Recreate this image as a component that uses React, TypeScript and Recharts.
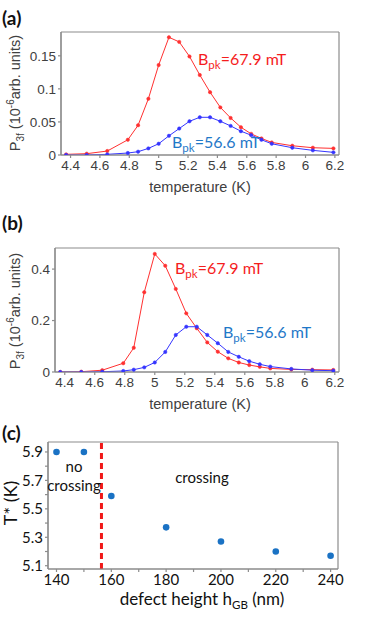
import { LineChart, Line, XAxis, YAxis, ScatterChart, Scatter, ReferenceLine, CartesianGrid } from "recharts";

// temperatures (K)
const temps = [4.37, 4.51, 4.65, 4.79, 4.86, 4.93, 5.0, 5.07, 5.14, 5.21, 5.28, 5.35, 5.42, 5.49, 5.56, 5.63, 5.7, 5.77, 5.91, 6.05, 6.19];
// panel (a)
const aHigh = [0.001, 0.002, 0.006, 0.023, 0.045, 0.085, 0.136, 0.178, 0.171, 0.149, 0.121, 0.095, 0.072, 0.056, 0.042, 0.032, 0.025, 0.019, 0.014, 0.011, 0.01];
const aLow = [0.0, 0.0, 0.001, 0.003, 0.005, 0.01, 0.017, 0.029, 0.04, 0.051, 0.057, 0.057, 0.051, 0.044, 0.036, 0.03, 0.023, 0.017, 0.011, 0.007, 0.004];
// panel (b)
const bHigh = [0.0, 0.001, 0.007, 0.034, 0.094, 0.31, 0.459, 0.413, 0.323, 0.228, 0.17, 0.115, 0.079, 0.053, 0.037, 0.027, 0.02, 0.014, 0.01, 0.009, 0.008];
const bLow = [0.0, 0.0, 0.001, 0.004, 0.009, 0.018, 0.037, 0.078, 0.144, 0.176, 0.176, 0.144, 0.112, 0.078, 0.059, 0.042, 0.03, 0.021, 0.012, 0.007, 0.005];
// panel (c)
const heights = [140, 150, 160, 180, 200, 220, 240];
const tStar = [5.9, 5.9, 5.59, 5.37, 5.27, 5.2, 5.17];
const boundary = 156.4;

const tempTicks = [4.4, 4.6, 4.8, 5.0, 5.2, 5.4, 5.6, 5.8, 6.0, 6.2];
const aTicks = [0, 0.05, 0.1, 0.15];
const bTicks = [0, 0.2, 0.4];
const hTicks = [140, 150, 160, 170, 180, 190, 200, 210, 220, 230, 240];
const tsTicks = [5.1, 5.2, 5.3, 5.4, 5.5, 5.6, 5.7, 5.8, 5.9];

const TDOM = [4.335, 6.228];
const HDOM = [136.9, 242.7];
const TSDOM = [5.077, 5.97];

const RED = "#ff3030";
const BLUE = "#3535ff";
const LBL_RED = "#f51d1d";
const LBL_BLUE = "#1f78c8";
const FRAME = "#8c8c8c";
const TICKTXT = "#404040";
const MATFONT = "'Liberation Sans', Arial, sans-serif";
const CALFONT = "Lato, 'Noto Sans', sans-serif";

const dataA = temps.map((t, i) => ({ t, hi: aHigh[i], lo: aLow[i] }));
const dataB = temps.map((t, i) => ({ t, hi: bHigh[i], lo: bLow[i] }));
const dataC = heights.map((h, i) => ({ h, ts: tStar[i] }));

const fmt = (v: number) => String(+v.toFixed(2));
const tickStyle = { fill: TICKTXT, fontSize: 13.5, fontFamily: MATFONT };
const axisLine = { stroke: FRAME, strokeWidth: 1.2 };
const tickLine = { stroke: FRAME, strokeWidth: 1.2 };

// box around the plot area (top/bottom and left/right edges)
const edgesH = ({ offset }: any) => [offset.top, offset.top + offset.height];
const edgesV = ({ offset }: any) => [offset.left, offset.left + offset.width];

const TempPanel = ({ data, ticks, ymax, ywidth, margin }: any) => (
  <LineChart width={374} height={200} data={data} margin={margin}>
    <CartesianGrid stroke={FRAME} strokeWidth={1.2} strokeOpacity={1} horizontalCoordinatesGenerator={edgesH} verticalCoordinatesGenerator={edgesV} />
    <XAxis dataKey="t" type="number" domain={TDOM} ticks={tempTicks} tickFormatter={fmt} axisLine={axisLine} tickLine={tickLine}
      height={28} tick={tickStyle} tickSize={3} tickMargin={2} interval={0} />
    <YAxis type="number" domain={[0, ymax]} ticks={ticks} tickFormatter={fmt} width={ywidth} axisLine={axisLine} tickLine={tickLine}
      tick={tickStyle} tickSize={3} tickMargin={2} allowDataOverflow />
    <Line dataKey="hi" stroke={RED} strokeWidth={1} dot={{ r: 1.7, fill: RED, stroke: RED, strokeWidth: 0.5 }} isAnimationActive={false} />
    <Line dataKey="lo" stroke={BLUE} strokeWidth={1} dot={{ r: 1.7, fill: BLUE, stroke: BLUE, strokeWidth: 0.5 }} isAnimationActive={false} />
  </LineChart>
);

const PLabel = ({ x, y }: { x: number; y: number }) => (
  <text transform={`translate(${x},${y}) rotate(-90)`} textAnchor="middle" fontFamily={MATFONT} fontSize={14.5} fill={TICKTXT}>
    P<tspan fontSize={10} dy={4}>3f</tspan>
    <tspan dy={-4}> (10</tspan>
    <tspan fontSize={10} dy={-6}>-6</tspan>
    <tspan dy={6}>arb. units)</tspan>
  </text>
);

const Bpk = ({ x, y, value, color }: any) => (
  <text x={x} y={y} fontFamily={CALFONT} fontSize={16} fill={color}>
    B<tspan fontSize={11.5} dy={4}>pk</tspan>
    <tspan dy={-4}>={value} mT</tspan>
  </text>
);

export default function App() {
  return (
    <div style={{ position: "absolute", left: 0, top: 0, width: 374, height: 617, background: "#fff" }}>
      <div style={{ position: "absolute", left: 0, top: 0 }}>
        <TempPanel data={dataA} ticks={aTicks} ymax={0.186} ywidth={40} margin={{ top: 32, right: 35, left: 21, bottom: 17 }} />
      </div>
      <div style={{ position: "absolute", left: 0, top: 200 }}>
        <TempPanel data={dataB} ticks={bTicks} ymax={0.482} ywidth={34} margin={{ top: 48, right: 35, left: 21, bottom: 0 }} />
      </div>
      <div style={{ position: "absolute", left: 0, top: 400 }}>
        <ScatterChart width={374} height={217} margin={{ top: 42, right: 36, left: 18, bottom: 0 }}>
          <CartesianGrid stroke={FRAME} strokeWidth={1.2} strokeOpacity={1} horizontalCoordinatesGenerator={edgesH} verticalCoordinatesGenerator={edgesV} />
          <XAxis dataKey="h" type="number" domain={HDOM} ticks={hTicks} axisLine={axisLine} tickLine={tickLine}
            tickFormatter={(v: number) => (v % 20 === 0 ? String(v) : "")} interval={0}
            height={48} tickSize={3} tickMargin={2}
            tick={{ fill: "#111", fontSize: 15, fontFamily: CALFONT }} />
          <YAxis dataKey="ts" type="number" domain={TSDOM} ticks={tsTicks} axisLine={axisLine} tickLine={tickLine}
            tickFormatter={(v: number) => (Math.round(v * 10) % 2 === 1 ? v.toFixed(1) : "")} interval={0}
            width={30} tickSize={3} tickMargin={2}
            tick={{ fill: "#111", fontSize: 15, fontFamily: CALFONT }} />
          <ReferenceLine x={boundary} stroke="#f01818" strokeWidth={3} strokeDasharray="6 4" />
          <Scatter data={dataC} fill="#1a72c4" isAnimationActive={false}
            shape={(p: any) => <circle cx={p.cx} cy={p.cy} r={3.3} fill="#1a72c4" />} />
        </ScatterChart>
      </div>
      <svg width={374} height={617} style={{ position: "absolute", left: 0, top: 0, pointerEvents: "none" }}>
        <text x={2} y={25} fontFamily={CALFONT} fontWeight="bold" fontSize={19} fill="#111">(a)</text>
        <text x={2} y={230} fontFamily={CALFONT} fontWeight="bold" fontSize={19} fill="#111">(b)</text>
        <text x={2} y={440} fontFamily={CALFONT} fontWeight="bold" fontSize={19} fill="#111">(c)</text>

        <PLabel x={20} y={93} />
        <PLabel x={20} y={311} />
        <text x={200} y={192} textAnchor="middle" fontFamily={MATFONT} fontSize={14.5} fill={TICKTXT}>temperature (K)</text>
        <text x={200} y={409} textAnchor="middle" fontFamily={MATFONT} fontSize={14.5} fill={TICKTXT}>temperature (K)</text>

        <Bpk x={198} y={65} value="67.9" color={LBL_RED} />
        <Bpk x={172} y={148} value="56.6" color={LBL_BLUE} />
        <Bpk x={175} y={274} value="67.9" color={LBL_RED} />
        <Bpk x={223} y={338} value="56.6" color={LBL_BLUE} />

        <text transform="translate(17,503) rotate(-90)" textAnchor="middle" fontFamily={CALFONT} fontSize={18} fill="#111">T* (K)</text>
        <text x={202} y={605} textAnchor="middle" fontFamily={CALFONT} fontSize={17} fill="#111">
          defect height h<tspan fontSize={11.5} dy={4}>GB</tspan><tspan dy={-4}> (nm)</tspan>
        </text>
        <text x={74} y={472} textAnchor="middle" fontFamily={CALFONT} fontSize={15} fill="#111">no</text>
        <text x={74} y={491} textAnchor="middle" fontFamily={CALFONT} fontSize={15} fill="#111">crossing</text>
        <text x={202} y={483} textAnchor="middle" fontFamily={CALFONT} fontSize={15} fill="#111">crossing</text>
      </svg>
    </div>
  );
}
